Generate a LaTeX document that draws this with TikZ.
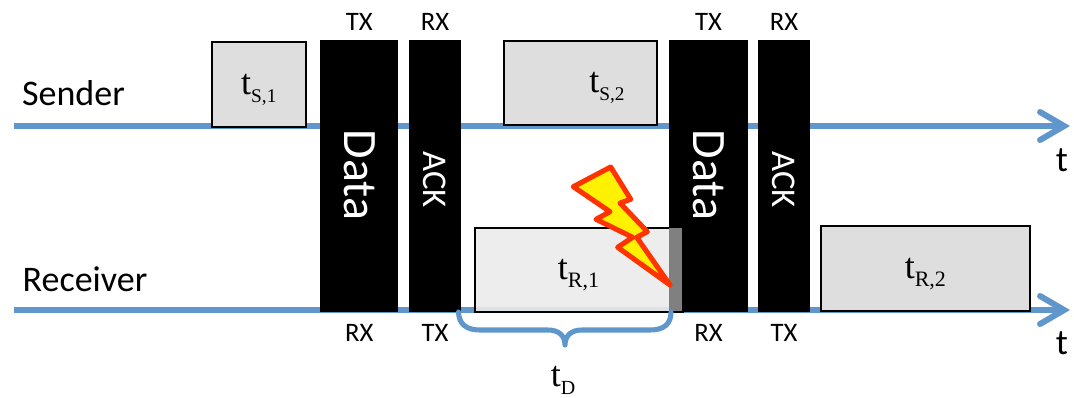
\documentclass[tikz,border=0pt]{standalone}
\usepackage{fontspec}
\setmainfont{Carlito}
\newfontfamily\timefont{Liberation Serif}
\usetikzlibrary{arrows.meta,shadows}
\definecolor{linkblue}{HTML}{5F96CB}
\definecolor{boltred}{HTML}{FF3300}
\newcommand{\tlabel}[2]{{\timefont\fontsize{27}{27}\selectfont t\raisebox{-6pt}[0pt][0pt]{\fontsize{#1}{#1}\selectfont #2}}}
\tikzset{
  timeline/.style={linkblue, line width=4.5pt, -{Straight Barb[length=18pt,width=21pt,line cap=round]}},
  radiobar/.style={fill=black, minimum height=204pt, inner sep=0pt, anchor=north west},
  barlabel/.style={white, rotate=-90},
  timebox/.style={draw=black, line width=1.5pt, fill=#1, inner sep=0pt, anchor=north west},
  radiotext/.style={font=\fontsize{20}{20}\selectfont},
  axistext/.style={font=\fontsize{27}{27}\selectfont}
}
\begin{document}
\begin{tikzpicture}[x=0.75pt, y=-0.75pt]
    \useasboundingbox (0,0) rectangle (1074,397);

    % Zeitachsen
    \coordinate (senderstart) at (14,126);
    \coordinate (senderend) at (1070,126);
    \coordinate (receiverstart) at (14,310);
    \coordinate (receiverend) at (1070,310);
    \draw[timeline] (senderstart) -- (senderend);
    \draw[timeline] (receiverstart) -- (receiverend);
    \node[axistext] (sender) at (73.5,93) {Sender};
    \node[axistext] (receiver) at (85,279) {Receiver};
    \node[axistext] (tsender) at (1062,160) {t};
    \node[axistext] (treceiver) at (1062,343) {t};

    % Daten und ACK
    \foreach \x/\w/\name/\size/\dx/\top/\bottom in {
      320/58.5/Data/36/-1/TX/RX,
      409/38.5/ACK/26/2.5/RX/TX,
      669/59/Data/36/-1/TX/RX,
      758/38.5/ACK/26/2.5/RX/TX
    } {
      \node[radiobar, minimum width=\w pt] (bar\x) at (\x,40) {};
      \node[barlabel, font=\fontsize{\size}{\size}\selectfont, xshift=\dx pt] (label\x) at (bar\x.center) {\name};
      \node[radiotext] (top\x) at (bar\x.north) [yshift=13.5pt] {\top};
      \node[radiotext] (bottom\x) at (bar\x.south) [yshift=-15.5pt] {\bottom};
    }

    % Verarbeitungszeiten
    \node[timebox=black!13, minimum width=71pt, minimum height=63.5pt] (ts1) at (210.5,41) {\tlabel{14.5}{S,1}};
    \node[timebox=black!13, minimum width=114.5pt, minimum height=63.5pt] (ts2) at (503,39.5) {\hspace*{40pt}\tlabel{14.5}{S,2}};
    \node[timebox=black!8, fill opacity=.9, text opacity=1, minimum width=156pt, minimum height=63pt] (tr1) at (473.5,227) {\tlabel{16.5}{R,1}};
    \node[timebox=black!13, minimum width=156.5pt, minimum height=63.5pt] (tr2) at (820,225) {\tlabel{16.5}{R,2}};
    \fill[black!50] (669,228) rectangle (682,310.5);

    % Blitz
    \draw[boltred, line width=3.8pt, line join=round, fill=yellow, drop shadow={shadow xshift=1pt, shadow yshift=-1.5pt, opacity=.3}]
      (610.7,167) -- (630.7,199.3) -- (620,203) -- (647.3,231.7) -- (636.7,237.3) -- (670,285)
      -- (617.7,247.3) -- (632.7,237.3) -- (596,219.3) -- (610,211.7) -- (573.3,186.7) -- cycle;

    % Klammer
    \coordinate (braceleft) at (458.5,312);
    \coordinate (braceright) at (671,312);
    \coordinate (bracetip) at (565,345);
    \draw[linkblue, line width=3.8pt, line cap=round, line join=round,
        preaction={draw=black, opacity=.2, transform canvas={yshift=-1pt}}]
      (braceleft) .. controls (459,324) and (466,330) .. (480,330)
      -- (548,330) .. controls (558,330) and (565,335) .. (bracetip)
      .. controls (565,335) and (572,330) .. (582,330)
      -- (650,330) .. controls (664,330) and (671,324) .. (braceright);
    \node[anchor=base, inner sep=0pt] (td) at (563,386) {\tlabel{15}{D}};
  \end{tikzpicture}
\end{document}
